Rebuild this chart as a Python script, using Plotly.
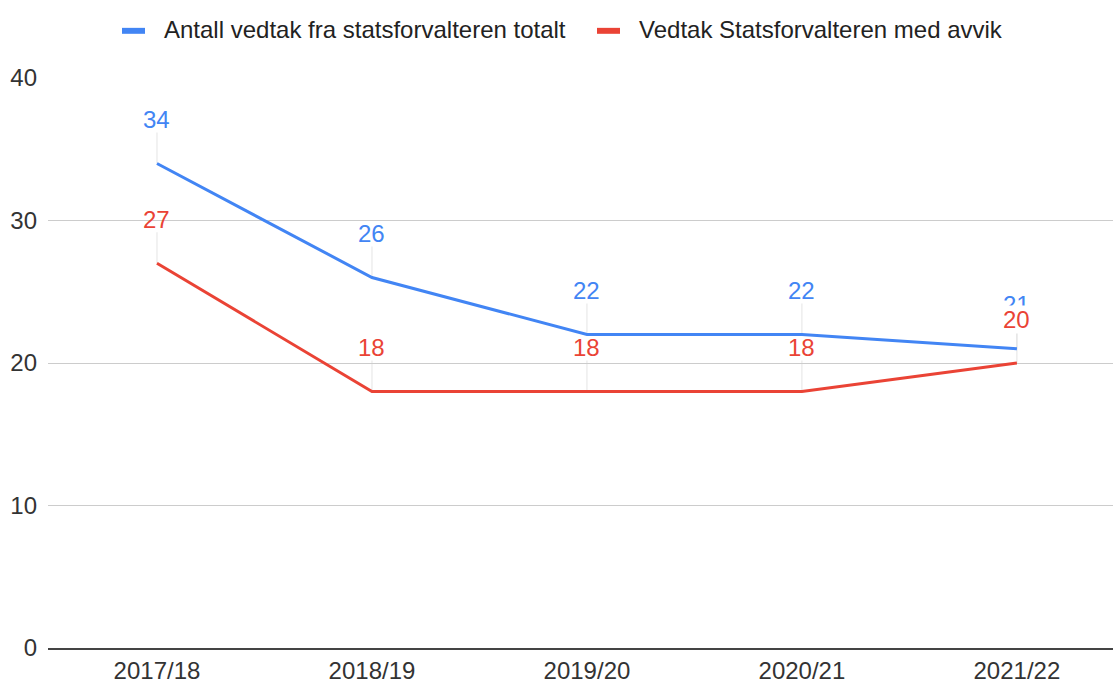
import plotly.graph_objects as go

categories = ["2017/18", "2018/19", "2019/20", "2020/21", "2021/22"]
totalt = [34, 26, 22, 22, 21]
avvik = [27, 18, 18, 18, 20]
series_names = ["Antall vedtak fra statsforvalteren totalt", "Vedtak Statsforvalteren med avvik"]
y_ticks = [0, 10, 20, 30, 40]

BLUE = "#4285F4"
RED = "#EA4335"
FONT = "Arial, Liberation Sans, sans-serif"
FS = 24

x_pos = list(range(len(categories)))

fig = go.Figure()
for name, vals, col in [(series_names[0], totalt, BLUE), (series_names[1], avvik, RED)]:
    fig.add_trace(go.Scatter(x=x_pos, y=vals, mode="lines", name=name,
                             line=dict(color=col, width=3), showlegend=False,
                             hoverinfo="skip"))

shapes = []
annotations = []
for vals, col in [(totalt, BLUE), (avvik, RED)]:
    for xi, v in zip(x_pos, vals):
        shapes.append(dict(type="line", xref="x", yref="y", ysizemode="pixel", yanchor=v,
                           x0=xi, x1=xi, y0=0, y1=31, layer="below",
                           line=dict(color="#e4e4e4", width=1)))
for vals, other, col in [(totalt, avvik, BLUE), (avvik, totalt, RED)]:
    for xi, v, o in zip(x_pos, vals, other):
        close = abs(v - o) < 2 and col == RED
        annotations.append(dict(x=xi, y=v, xref="x", yref="y", text=str(v), showarrow=False,
                                yshift=44, font=dict(family=FONT, size=FS, color=col),
                                bgcolor="white" if close else "rgba(0,0,0,0)", borderpad=0))

# manual legend
L, W, T, H = 48, 1065, 78, 574
def px(x):
    return (x - L) / W
def py(y):
    return (T + H - y) / H

legend_items = [(series_names[0], BLUE, 122, 162), (series_names[1], RED, 597, 637)]
for name, col, sx, tx in legend_items:
    shapes.append(dict(type="rect", xref="paper", yref="paper",
                       x0=px(sx), x1=px(sx + 23), y0=py(27.5), y1=py(33.5),
                       fillcolor=col, line=dict(width=0)))
    annotations.append(dict(x=px(tx), y=py(29), xref="paper", yref="paper", text=name,
                            showarrow=False, xanchor="left", yanchor="middle",
                            font=dict(family=FONT, size=FS, color="#222222")))

fig.update_layout(
    width=1113, height=684,
    margin=dict(l=L, r=0, t=T, b=684 - T - H),
    paper_bgcolor="white", plot_bgcolor="white",
    shapes=shapes, annotations=annotations,
    font=dict(family=FONT, size=FS, color="#333333"),
    xaxis=dict(range=[-0.507, 4.447], tickvals=x_pos, ticktext=categories,
               showgrid=False, zeroline=False, showline=True, linecolor="#444444",
               linewidth=2, ticks="", tickfont=dict(size=FS, color="#333333")),
    yaxis=dict(range=[0, 40], tickvals=y_ticks, showgrid=True, gridcolor="#cccccc",
               gridwidth=1, zeroline=False, showline=False, ticks="",
               ticklabelstandoff=10, tickfont=dict(size=FS, color="#333333")),
)

fig.write_html("out.html", config={"displayModeBar": False},
               post_script="document.body.style.margin='0';")
